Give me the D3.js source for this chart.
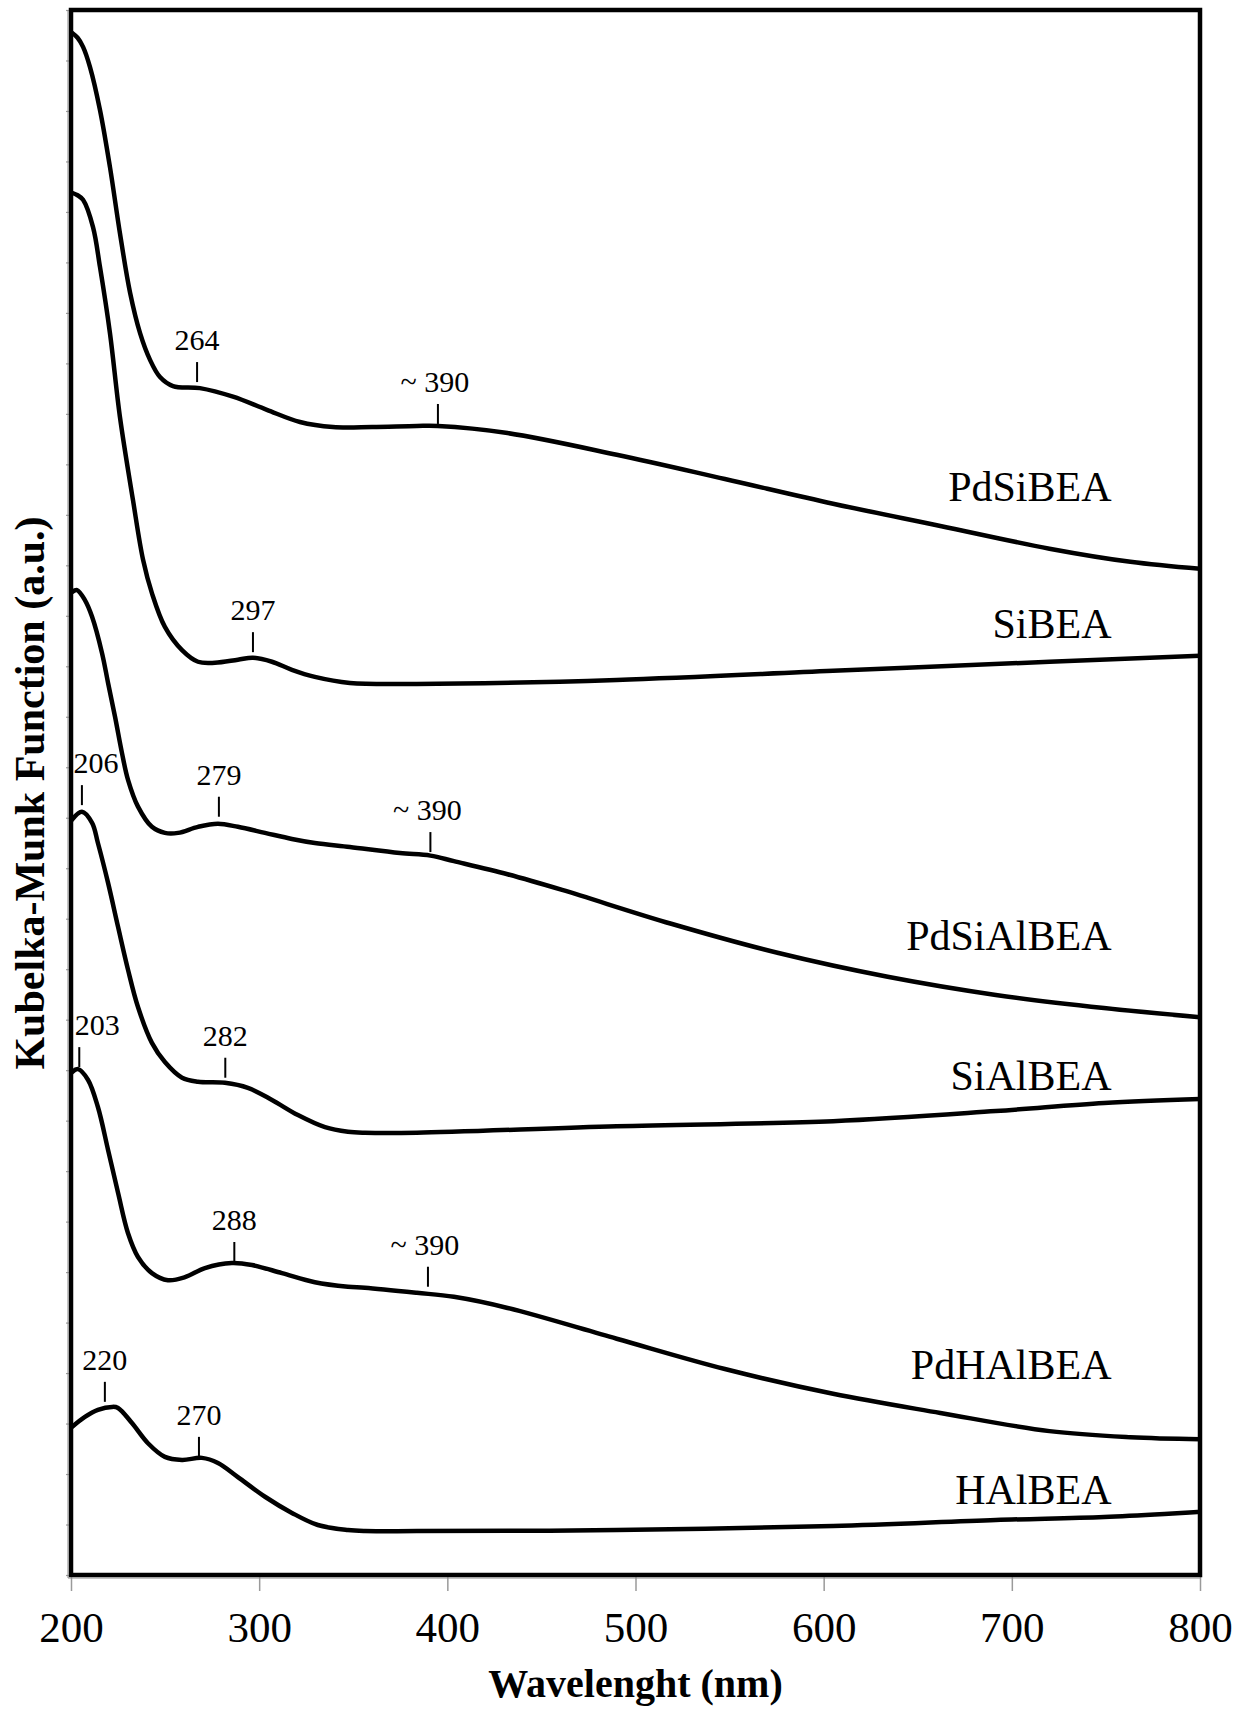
<!DOCTYPE html>
<html>
<head>
<meta charset="utf-8">
<script src="https://cdn.jsdelivr.net/npm/d3@7"></script>
<style>
  html, body { margin: 0; padding: 0; background: #fff; }
  svg { display: block; }
  text { font-family: "Liberation Serif", "Times New Roman", serif; fill: #000; }
</style>
</head>
<body>
<div id="chart"></div>
<script>
// ---------- DATA (wavelength in nm, Kubelka-Munk in arbitrary units) ----------
const xTicks = [200, 300, 400, 500, 600, 700, 800];
const yTicks = d3.range(0, 32, 1);

const seriesNames = ["PdSiBEA", "SiBEA", "PdSiAlBEA", "SiAlBEA", "PdHAlBEA", "HAlBEA"];

const PdSiBEA = [
  [200.5, 30.55], [203.5, 30.45], [206.4, 30.27], [210.1, 29.87], [215.4, 29.02], [220.7, 27.89],
  [226.0, 26.58], [231.4, 25.40], [236.7, 24.60], [242.0, 24.07], [247.3, 23.73],
  [254.2, 23.55], [268.5, 23.51], [286.1, 23.34], [304.1, 23.08], [321.7, 22.84],
  [339.2, 22.74], [360, 22.74], [383.8, 22.76], [395, 22.76], [432, 22.62], [490, 22.19],
  [547.5, 21.71], [605, 21.22], [662, 20.78], [720, 20.33], [763, 20.07], [800, 19.93]
];
const SiBEA = [
  [200.5, 27.38], [203.5, 27.33], [206.4, 27.24], [211.7, 26.70], [215.4, 25.91], [220.7, 24.60],
  [226.0, 22.94], [232.9, 21.30], [238.3, 20.11], [243.0, 19.45], [249.9, 18.78],
  [259.0, 18.32], [267.5, 18.09], [276.5, 18.07], [288.7, 18.13], [296.7, 18.17],
  [306.8, 18.09], [317.4, 17.93], [329.6, 17.79], [348.2, 17.67], [383.8, 17.65],
  [490, 17.73], [605, 17.91], [720, 18.09], [800, 18.21]
];
const PdSiAlBEA = [
  [200.5, 19.47], [203.2, 19.51], [207.4, 19.31], [211.2, 18.98], [216.5, 18.26],
  [219.7, 17.67], [223.4, 17.00], [227.1, 16.28], [230.3, 15.75], [235.6, 15.22],
  [243.0, 14.82], [249.9, 14.70], [256.9, 14.70], [267.5, 14.82], [278.1, 14.88],
  [288.7, 14.82], [303.1, 14.70], [317.4, 14.58], [329.6, 14.50], [348.2, 14.42],
  [374.8, 14.30], [391, 14.25], [403.5, 14.14], [432, 13.88], [461, 13.57], [519, 12.90],
  [576, 12.32], [634, 11.85], [691.5, 11.49], [749, 11.23], [800, 11.05]
];
const SiAlBEA = [
  [200.5, 14.96], [205.8, 15.12], [211.2, 14.90], [214.3, 14.50], [219.7, 13.71],
  [225.0, 12.84], [230.3, 11.99], [235.6, 11.25], [243.0, 10.54], [249.9, 10.16],
  [259.0, 9.85], [267.5, 9.77], [281.8, 9.75], [294.0, 9.65], [306.8, 9.41],
  [320.6, 9.11], [335.0, 8.87], [347.2, 8.78], [356.2, 8.76], [383.8, 8.76],
  [490, 8.89], [605, 8.99], [691.5, 9.19], [749, 9.35], [800, 9.43]
];
const PdHAlBEA = [
  [200.5, 9.96], [203.7, 10.02], [209.0, 9.81], [214.3, 9.27], [219.7, 8.42],
  [225.0, 7.57], [230.3, 6.77], [235.6, 6.30], [243.0, 5.98], [251.5, 5.84],
  [260.6, 5.90], [271.2, 6.08], [285.5, 6.18], [296.2, 6.14], [312.1, 5.98],
  [329.6, 5.80], [347.2, 5.71], [356.2, 5.69], [383.8, 5.59], [403.5, 5.51],
  [432, 5.29], [490, 4.68], [547.5, 4.08], [605, 3.59], [662, 3.21], [720, 2.85],
  [763, 2.73], [800, 2.69]
];
const HAlBEA = [
  [200.5, 2.93], [207.4, 3.13], [214.3, 3.27], [221.8, 3.33], [225.0, 3.31],
  [232.4, 3.01], [240.9, 2.61], [249.9, 2.34], [259.0, 2.28], [269.6, 2.32],
  [278.1, 2.22], [288.7, 1.94], [303.1, 1.55], [317.4, 1.23], [331.2, 0.99],
  [347.2, 0.89], [356.2, 0.87], [383.8, 0.87], [490, 0.89], [605, 0.97],
  [691.5, 1.09], [749, 1.15], [800, 1.25]
];
const seriesData = [PdSiBEA, SiBEA, PdSiAlBEA, SiAlBEA, PdHAlBEA, HAlBEA];

// series name label anchor (right end, nm) and level (a.u.)
const seriesLabelNm = 753;
const seriesLabelY = [21.28, 18.56, 12.38, 9.61, 3.88, 1.41];

// peak annotations: text, wavelength of marker, level at marker foot
const peakLabels = ["264", "~ 390", "297", "206", "279", "~ 390", "203", "282", "288", "~ 390", "220", "270"];
const peakNm     = [267, 395, 296.7, 205.8, 278.6, 391, 204.4, 282, 286.8, 389.7, 218, 268];
const peakLevel  = [23.63, 22.80, 18.28, 15.25, 15.02, 14.32, 10.06, 9.85, 6.20, 5.71, 3.43, 2.34];

const xTitle = "Wavelenght (nm)";
const yTitle = "Kubelka-Munk Function (a.u.)";

// ---------- LAYOUT ----------
const W = 1249, H = 1710;
const M = { left: 71, right: 1200, top: 10, bottom: 1575 };

const svg = d3.select("#chart").append("svg")
  .attr("width", W).attr("height", H);

const x = d3.scaleLinear().domain([200, 800]).range([M.left, M.right]);
const y = d3.scaleLinear().domain([0, 31]).range([M.bottom, M.top]);

svg.append("defs").append("clipPath").attr("id", "clip")
  .append("rect").attr("x", M.left).attr("y", M.top)
  .attr("width", M.right - M.left).attr("height", M.bottom - M.top);

// left axis ticks (grey, small, outward)
const yAxis = d3.axisLeft(y).tickValues(yTicks).tickSize(5).tickFormat("");
const gy = svg.append("g").attr("transform", `translate(${M.left},0)`).call(yAxis);
gy.selectAll(".tick line").attr("stroke", "#9a9a9a").attr("stroke-width", 1.2);
gy.select(".domain").remove();

// bottom axis
const xAxis = d3.axisBottom(x).tickValues(xTicks).tickSize(16).tickPadding(0);
const gx = svg.append("g").attr("transform", `translate(0,${M.bottom})`).call(xAxis);
gx.select(".domain").remove();
gx.selectAll(".tick line").attr("stroke", "#9a9a9a").attr("stroke-width", 1.5);
gx.selectAll(".tick text")
  .attr("y", 67).attr("dy", 0)
  .style("font-family", '"Liberation Serif", "Times New Roman", serif')
  .style("font-size", "43px").attr("fill", "#000");

// frame
svg.append("rect")
  .attr("x", M.left).attr("y", M.top)
  .attr("width", M.right - M.left).attr("height", M.bottom - M.top)
  .attr("fill", "none").attr("stroke", "#000").attr("stroke-width", 4.5);
// thin grey edges on left and bottom
svg.append("line").attr("x1", M.left - 3).attr("x2", M.left - 3)
  .attr("y1", M.top).attr("y2", M.bottom + 3).attr("stroke", "#8a8a8a").attr("stroke-width", 1);
svg.append("line").attr("x1", M.left - 3).attr("x2", M.right)
  .attr("y1", M.bottom + 3).attr("y2", M.bottom + 3).attr("stroke", "#8a8a8a").attr("stroke-width", 1);

// curves
const line = d3.line()
  .x(d => x(d[0])).y(d => y(d[1]))
  .curve(d3.curveCatmullRom.alpha(0.5));

svg.append("g").attr("clip-path", "url(#clip)")
  .selectAll("path").data(seriesData).join("path")
  .attr("d", line)
  .attr("fill", "none").attr("stroke", "#000")
  .attr("stroke-width", 4.5).attr("stroke-linejoin", "round").attr("stroke-linecap", "round");

// series labels
svg.append("g").selectAll("text").data(seriesNames).join("text")
  .attr("x", x(seriesLabelNm))
  .attr("y", (d, i) => y(seriesLabelY[i]))
  .attr("text-anchor", "end")
  .style("font-size", "42px")
  .text(d => d);

// peak annotations
const tickLen = 20;
const ann = svg.append("g");
peakLabels.forEach((lab, i) => {
  const px = x(peakNm[i]);
  const pyBottom = y(peakLevel[i]);
  const pyTop = pyBottom - tickLen;
  ann.append("line")
    .attr("x1", px).attr("x2", px).attr("y1", pyTop).attr("y2", pyBottom)
    .attr("stroke", "#000").attr("stroke-width", 2);
  let dx = 0;
  if (lab === "206") dx = 14;
  if (lab === "203") dx = 18;
  if (lab.startsWith("~")) dx = -3;
  ann.append("text")
    .attr("x", px + dx).attr("y", pyTop - 12)
    .attr("text-anchor", "middle")
    .style("font-size", "30px")
    .text(lab);
});

// axis titles
svg.append("text")
  .attr("x", (M.left + M.right) / 2).attr("y", 1697)
  .attr("text-anchor", "middle")
  .style("font-size", "40px").style("font-weight", "bold")
  .text(xTitle);

svg.append("text")
  .attr("transform", `translate(44,793) rotate(-90)`)
  .attr("text-anchor", "middle")
  .style("font-size", "42px").style("font-weight", "bold")
  .text(yTitle);
</script>
</body>
</html>
